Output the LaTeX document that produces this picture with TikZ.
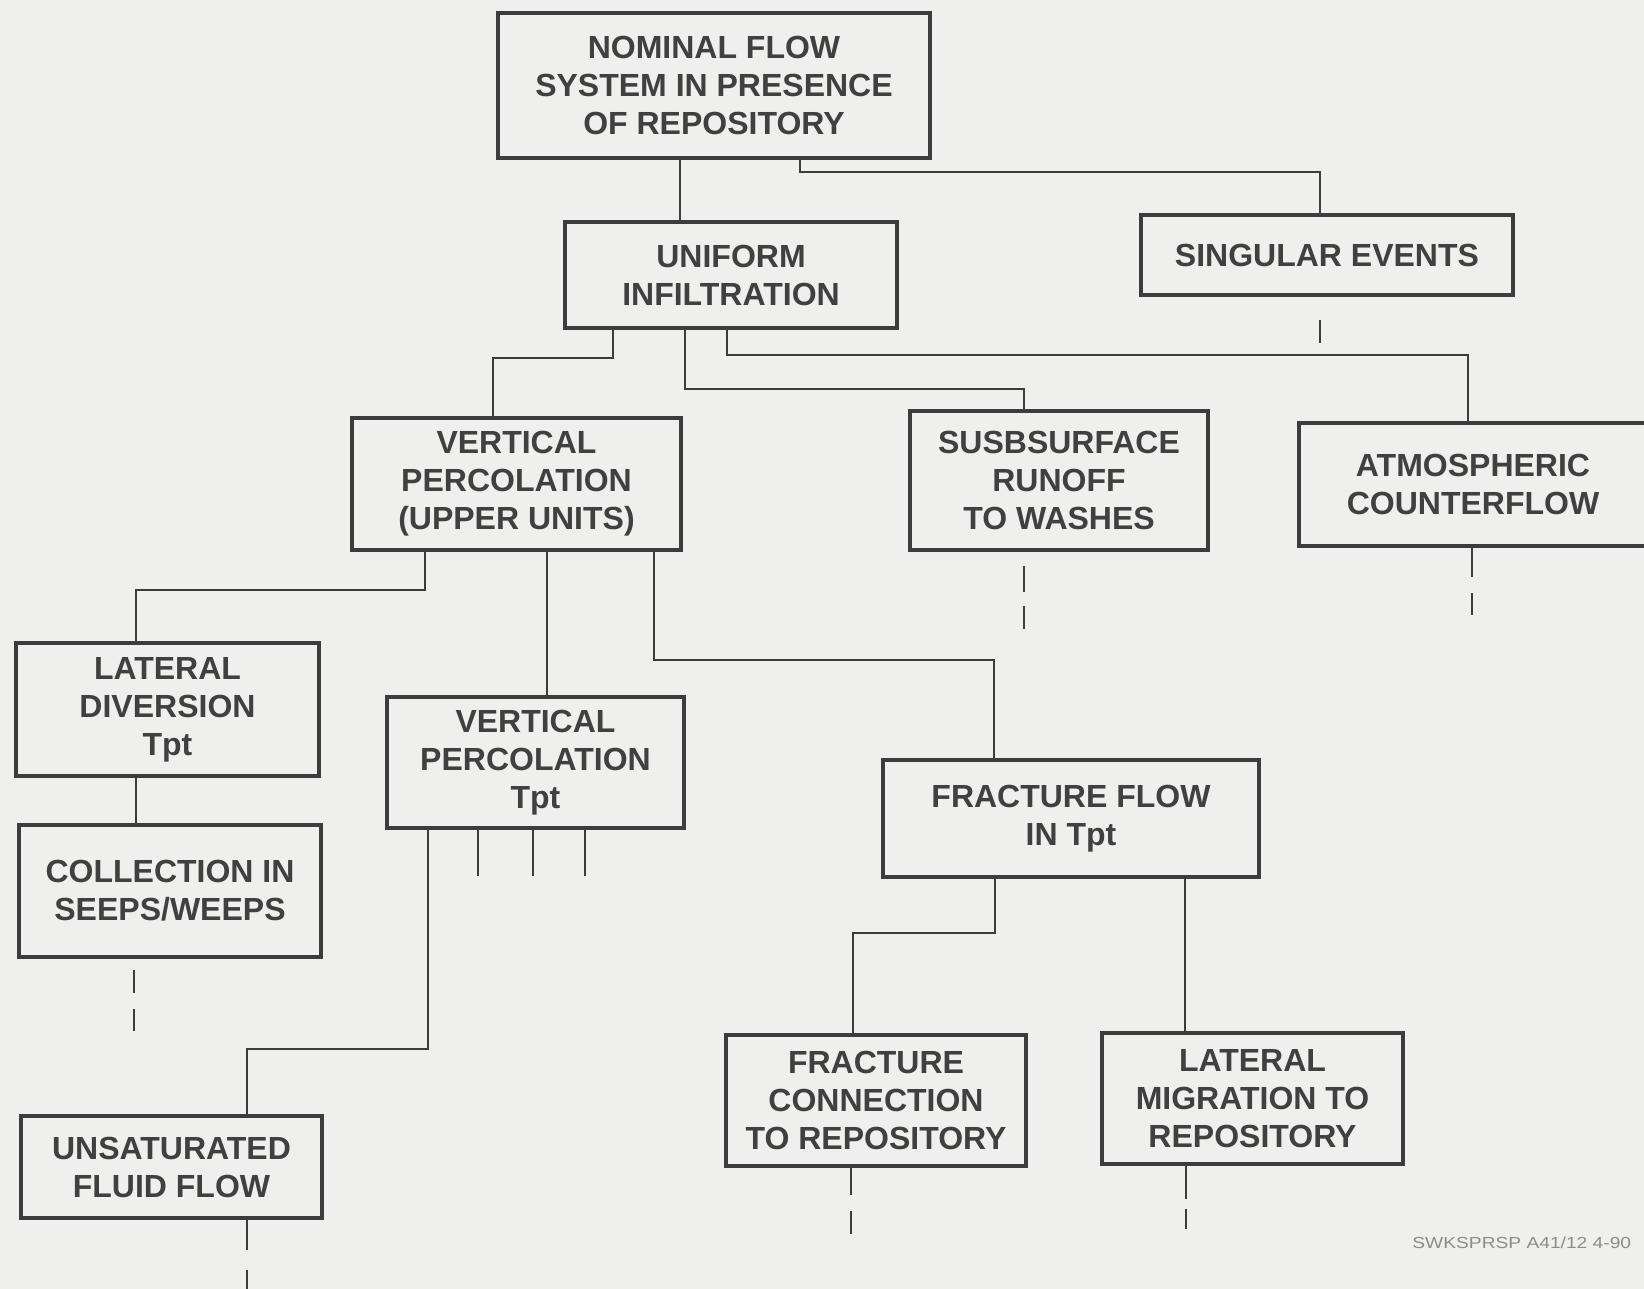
\documentclass[tikz,border=0pt]{standalone}
\usepackage{fontspec}
\usepackage{graphicx}
\setmainfont{Liberation Sans}
\definecolor{paper}{HTML}{EFEFED}
\definecolor{ink}{HTML}{3C3C3C}
\definecolor{inktext}{HTML}{404040}
\definecolor{faint}{HTML}{8C8C8C}
\begin{document}
\begin{tikzpicture}[x=0.5pt,y=-0.5pt,
  box/.style={draw=ink, line width=1.8pt, align=center, text=inktext,
    inner sep=0pt, font=\bfseries\fontsize{16}{19}\selectfont},
  link/.style={draw=ink, line width=1.2pt},
  stub/.style={draw=ink, line width=1.4pt}]
% page
\fill[paper] (0,0) rectangle (1644,1289);
\useasboundingbox (0,0) rectangle (1644,1289);

% boxes
\node[box, minimum width=216pt, minimum height=72.5pt] (nom) at (714,85.5)
  {NOMINAL FLOW\\SYSTEM IN PRESENCE\\OF REPOSITORY};
\node[box, minimum width=166pt, minimum height=53pt] (uni) at (731,275)
  {UNIFORM\\INFILTRATION};
\node[box, minimum width=186pt, minimum height=40pt] (sing) at (1327,255)
  {SINGULAR EVENTS};
\node[box, minimum width=164.5pt, minimum height=66pt] (vpu) at (516.5,484)
  {VERTICAL\\PERCOLATION\\(UPPER UNITS)};
\node[box, minimum width=149pt, minimum height=69.5pt] (sub) at (1059,480.5)
  {SUSBSURFACE\\RUNOFF\\TO WASHES};
\node[box, minimum width=174pt, minimum height=61.5pt] (atm) at (1473,484.5)
  {ATMOSPHERIC\\COUNTERFLOW};
\node[box, minimum width=151.5pt, minimum height=66.5pt] (lat) at (167.5,709.5)
  {LATERAL\\DIVERSION\\Tpt};
\node[box, minimum width=151pt, minimum height=66pt] (col) at (170,891)
  {COLLECTION IN\\SEEPS/WEEPS};
\node[box, minimum width=148.5pt, minimum height=65.5pt] (vpt) at (535.5,762.5)
  {VERTICAL\\PERCOLATION\\Tpt};
\node[box, minimum width=150.5pt, minimum height=51pt] (unsat) at (171.5,1167)
  {UNSATURATED\\FLUID FLOW};
\node[box, minimum width=188pt, minimum height=58.5pt] (ff) at (1071,818.5)
  {FRACTURE FLOW\\IN Tpt};
\node[box, minimum width=150pt, minimum height=65.5pt] (fc) at (876,1100.5)
  {FRACTURE\\CONNECTION\\TO REPOSITORY};
\node[box, minimum width=150.5pt, minimum height=65.5pt] (lm) at (1252.5,1098.5)
  {LATERAL\\MIGRATION TO\\REPOSITORY};

% tree connectors
\draw[link] (680,0 |- nom.south) -- (680,0 |- uni.north);
\draw[link] (800,0 |- nom.south) -- (800,172) -- (1320,172) -- (1320,0 |- sing.north);
\draw[link] (613,0 |- uni.south) -- (613,358) -- (493,358) -- (493,0 |- vpu.north);
\draw[link] (685,0 |- uni.south) -- (685,389) -- (1024,389) -- (1024,0 |- sub.north);
\draw[link] (727,0 |- uni.south) -- (727,355) -- (1468,355) -- (1468,0 |- atm.north);
\draw[link] (425,0 |- vpu.south) -- (425,590) -- (136,590) -- (136,0 |- lat.north);
\draw[link] (547,0 |- vpu.south) -- (547,0 |- vpt.north);
\draw[link] (654,0 |- vpu.south) -- (654,660) -- (994,660) -- (994,0 |- ff.north);
\draw[link] (136,0 |- lat.south) -- (136,0 |- col.north);
\draw[link] (428,0 |- vpt.south) -- (428,1049) -- (247,1049) -- (247,0 |- unsat.north);
\draw[link] (995,0 |- ff.south) -- (995,933) -- (853,933) -- (853,0 |- fc.north);
\draw[link] (1185,0 |- ff.south) -- (1185,0 |- lm.north);

% broken continuation stubs
\coordinate (s1) at (1320,343);
\draw[stub] (1320,320) -- (s1);
\coordinate (s2) at (1024,592);
\draw[stub] (1024,566) -- (s2);
\draw[stub] (1024,606) -- (1024,629);
\coordinate (s3) at (1472,577);
\draw[stub] (1472,0 |- atm.south) -- (s3);
\draw[stub] (1472,593) -- (1472,615);
\coordinate (s4) at (134,993);
\draw[stub] (134,970) -- (s4);
\draw[stub] (134,1009) -- (134,1031);
\foreach \sx in {478,533,585}
  \draw[stub] (\sx,0 |- vpt.south) -- (\sx,876);
\coordinate (s5) at (247,1250);
\draw[stub] (247,0 |- unsat.south) -- (s5);
\draw[stub] (247,1270) -- (247,1292);
\coordinate (s6) at (851,1195);
\draw[stub] (851,0 |- fc.south) -- (s6);
\draw[stub] (851,1211) -- (851,1234);
\coordinate (s7) at (1186,1199);
\draw[stub] (1186,0 |- lm.south) -- (s7);
\draw[stub] (1186,1209) -- (1186,1229);

% drawing reference
\node[anchor=west, inner sep=0pt, text=faint, font=\fontsize{8}{9}\selectfont] (ref) at (1412,1243)
  {\scalebox{1.2}[1]{SWKSPRSP A41/12 4-90}};
\end{tikzpicture}
\end{document}
